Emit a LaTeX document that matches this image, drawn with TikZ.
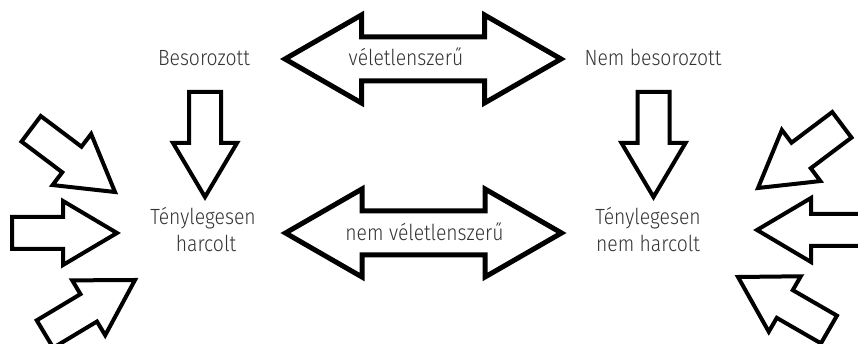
\documentclass[tikz,border=0pt]{standalone}
\usepackage{fontspec}
\setmainfont{Fira Sans Light}[FakeStretch=0.88]
\definecolor{txt}{HTML}{333333}
\tikzset{
  outline/.style={draw=black, fill=white, line width=4pt, line join=miter},
  thickoutline/.style={outline, line width=5pt},
  lbl/.style={anchor=base, inner sep=0pt, text=txt, font=\fontsize{22}{27}\selectfont},
  % block arrow with its tip at the origin, pointing along +x
  blockarrow/.pic={
    \draw[outline] (0,0) -- (-54,32) -- (-54,16) -- (-105,16) -- (-105,-16)
      -- (-54,-16) -- (-54,-32) -- cycle;
  },
  % double-headed block arrow centred at the origin
  twinarrow/.pic={
    \draw[thickoutline] (-138,0) -- (-61.5,44) -- (-61.5,22) -- (61.5,22)
      -- (61.5,44) -- (138,0) -- (61.5,-44) -- (61.5,-22) -- (-61.5,-22)
      -- (-61.5,-44) -- cycle;
  }
}
\begin{document}
\begin{tikzpicture}[x=1pt, y=1pt]
\useasboundingbox (0,0) rectangle (858,344);
\clip (0,0) rectangle (858,344);

% double arrows between the two columns
\pic at (423,285) {twinarrow};
\pic at (423.5,111) {twinarrow};

% downward arrows inside each column
\pic[rotate=-90] at (205,147) {blockarrow};
\pic[rotate=-90] at (653.5,147) {blockarrow};

% arrows converging from the left edge
\pic[rotate=-37] at (115,152) {blockarrow};
\pic at (117,111) {blockarrow};
\pic[rotate=31] at (135,64) {blockarrow};

% arrows converging from the right edge
\pic[rotate=217] at (758,156) {blockarrow};
\pic[rotate=180] at (757,114) {blockarrow};
\pic[rotate=150] at (738,67) {blockarrow};

% labels
\node[lbl] (besor) at (204,278) {Besorozott};
\node[lbl] (nembesor) at (653,278) {Nem besorozott};
\node[lbl] (velet) at (406,278) {véletlenszerű};
\node[lbl] (nemvelet) at (424.5,103) {nem véletlenszerű};
\node[lbl] (harc1) at (203,119) {Ténylegesen};
\node[lbl] (harc2) at (206,92) {harcolt};
\node[lbl] (nharc1) at (648,119) {Ténylegesen};
\node[lbl] (nharc2) at (648,92) {nem harcolt};
\end{tikzpicture}
\end{document}
